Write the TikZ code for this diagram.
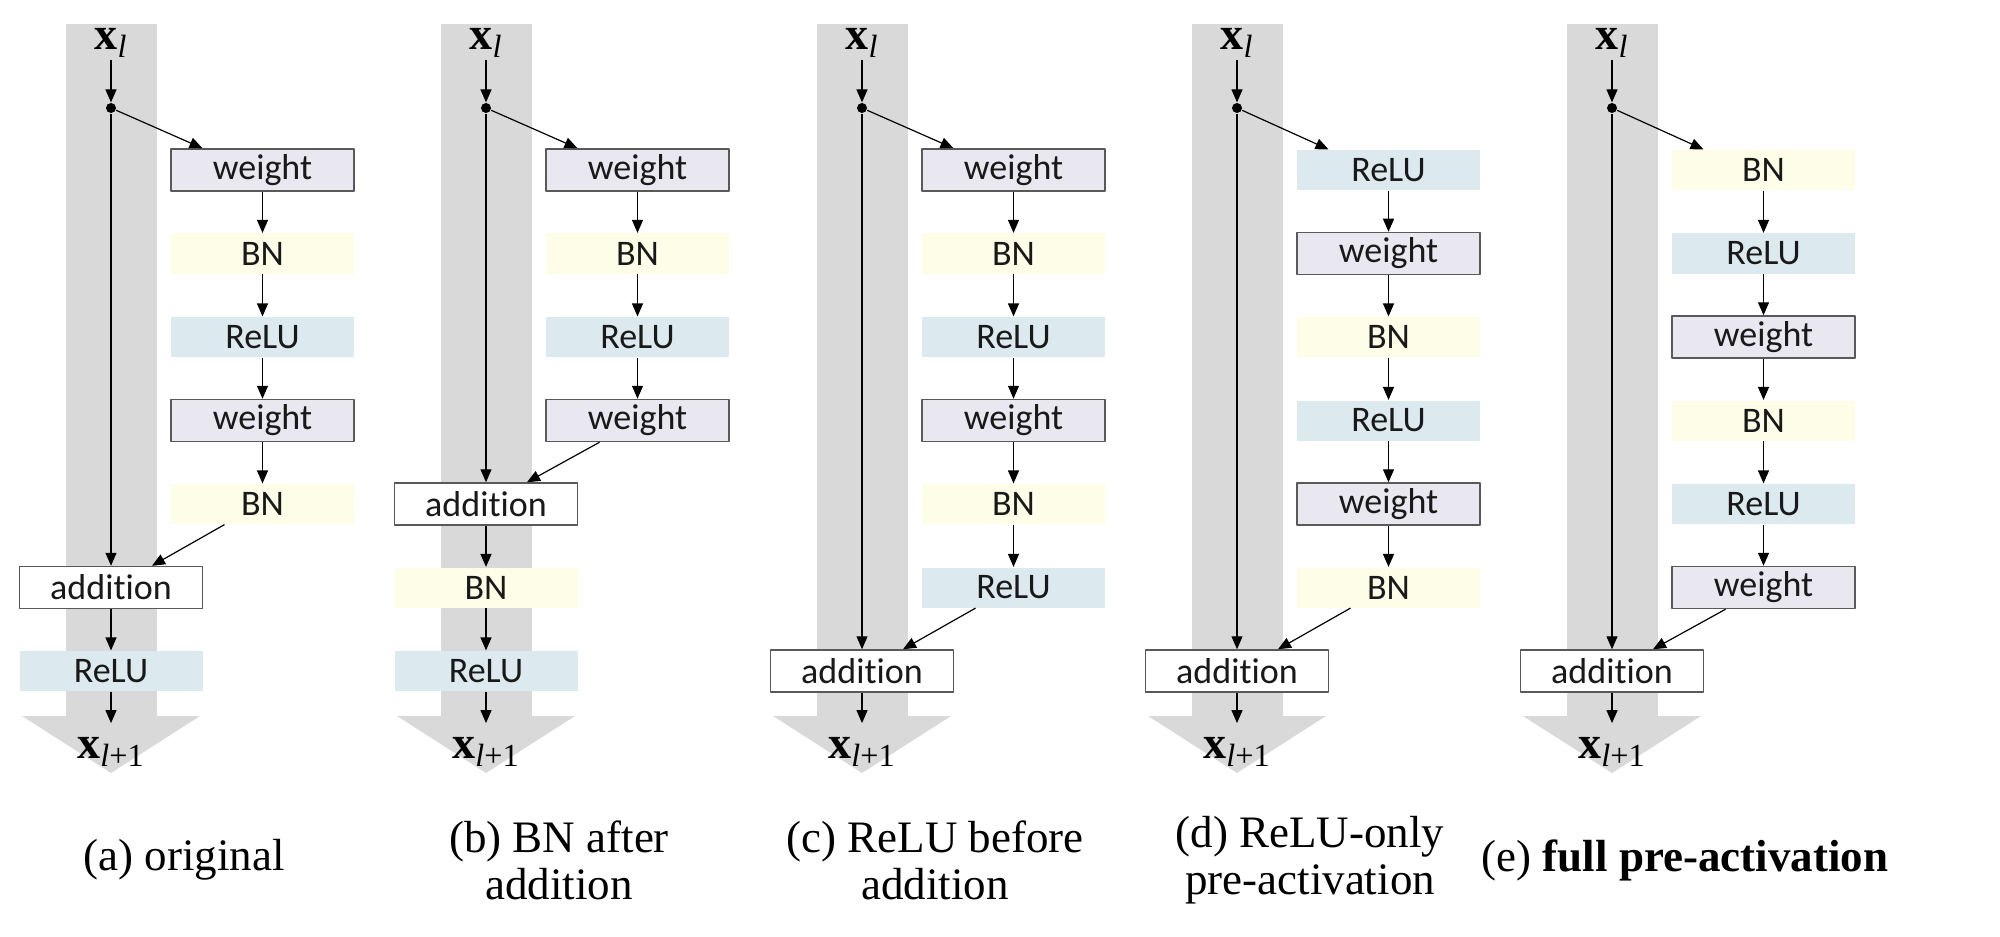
\documentclass[tikz,border=0pt]{standalone}
\usepackage{fontspec}
\setmainfont{Liberation Serif}
\newfontfamily\boxfont[Ligatures={NoCommon}]{Carlito}
\usetikzlibrary{arrows.meta}
\definecolor{trunkgray}{HTML}{D9D9D9}
\definecolor{wtfill}{HTML}{E9E7F0}
\definecolor{bnfill}{HTML}{FDFDE8}
\definecolor{relufill}{HTML}{DCEAF0}
\definecolor{boxline}{HTML}{595959}
\newcommand\labwt{weight}
\newcommand\labbn{BN}
\newcommand\labrelu{ReLU}
\newcommand\labadd{addition}
\tikzset{
  blk/.style={minimum width=91.5pt, minimum height=21pt, inner sep=0pt, text=black!90, font=\boxfont\fontsize{18}{18}\selectfont},
  wt/.style={blk, draw=boxline, line width=0.75pt, fill=wtfill},
  bn/.style={blk, fill=bnfill, minimum height=20pt},
  relu/.style={blk, fill=relufill, minimum height=20pt},
  add/.style={blk, draw=boxline, line width=0.75pt, fill=white},
  forkdot/.style={circle, fill, inner sep=0pt, minimum size=5pt},
  xlab/.style={font=\fontsize{23}{24}\selectfont, inner sep=1pt},
  captxt/.style={font=\fontsize{22.5}{23.5}\selectfont, align=center},
}
\begin{document}
\begin{tikzpicture}[x=0.5pt, y=-0.5pt, >={Triangle[length=6.5pt,width=5.5pt]}, line width=0.6pt, line join=round]
\useasboundingbox (0,0) rectangle (2000,936);
\foreach \p/\X/\N/\side/\main/\txt in {
  a/111/5/{wt,bn,relu,wt,bn}/{add,relu}/{(a) original},
  b/486/4/{wt,bn,relu,wt}/{add,bn,relu}/{(b) BN after\\addition},
  c/862/6/{wt,bn,relu,wt,bn,relu}/{add}/{(c) ReLU before\\addition},
  d/1237/6/{relu,wt,bn,relu,wt,bn}/{add}/{(d) ReLU-only\\pre-activation},
  e/1612/6/{bn,relu,wt,bn,relu,wt}/{add}/{(e) \textbf{full pre-activation}}}
{
  % trunk
  \fill[trunkgray] (\X-45.5,24) rectangle (\X+45.5,716);
  \fill[trunkgray] (\X-89,716) -- (\X+89,716) -- (\X,773) -- cycle;
  \node[xlab] (\p-in) at (\X,43) {\textbf{x}\textsubscript{\textit{l}}};
  \node[xlab] (\p-out) at (\X,752) {\textbf{x}\textsubscript{\textit{l}+1}};
  \node[forkdot] (\p-fork) at (\X,108) {};
  \draw[->] (\p-in) -- (\p-fork);
  % residual branch
  \foreach \s [count=\i, remember=\i as \j (initially 0)] in \side {
    \node[\s] (\p-s\i) at (\X+151.5,86.5+83.5*\i) {\csname lab\s\endcsname};
    \ifnum\i>1 \draw[->] (\p-s\j) -- (\p-s\i); \fi
  }
  % shortcut path
  \pgfmathtruncatemacro\M{7-\N}
  \foreach \s [count=\k, remember=\k as \j (initially 0)] in \main {
    \node[\s] (\p-m\k) at (\X,{86.5+83.5*(\N+\k)}) {\csname lab\s\endcsname};
    \ifnum\k>1 \draw[->] (\p-m\j) -- (\p-m\k); \fi
  }
  \draw[->] (\p-fork) -- ([xshift=-30pt]\p-s1.north);
  \draw[->] (\p-fork) -- (\p-m1);
  \draw[->] ([xshift=-19pt]\p-s\N.south) -- ([xshift=20.5pt]\p-m1.north);
  \draw[->, shorten >=6pt] (\p-m\M) -- (\p-out);
  \node[captxt] (\p-cap) at (\X+73,860) {\txt};
}
\end{tikzpicture}
\end{document}
